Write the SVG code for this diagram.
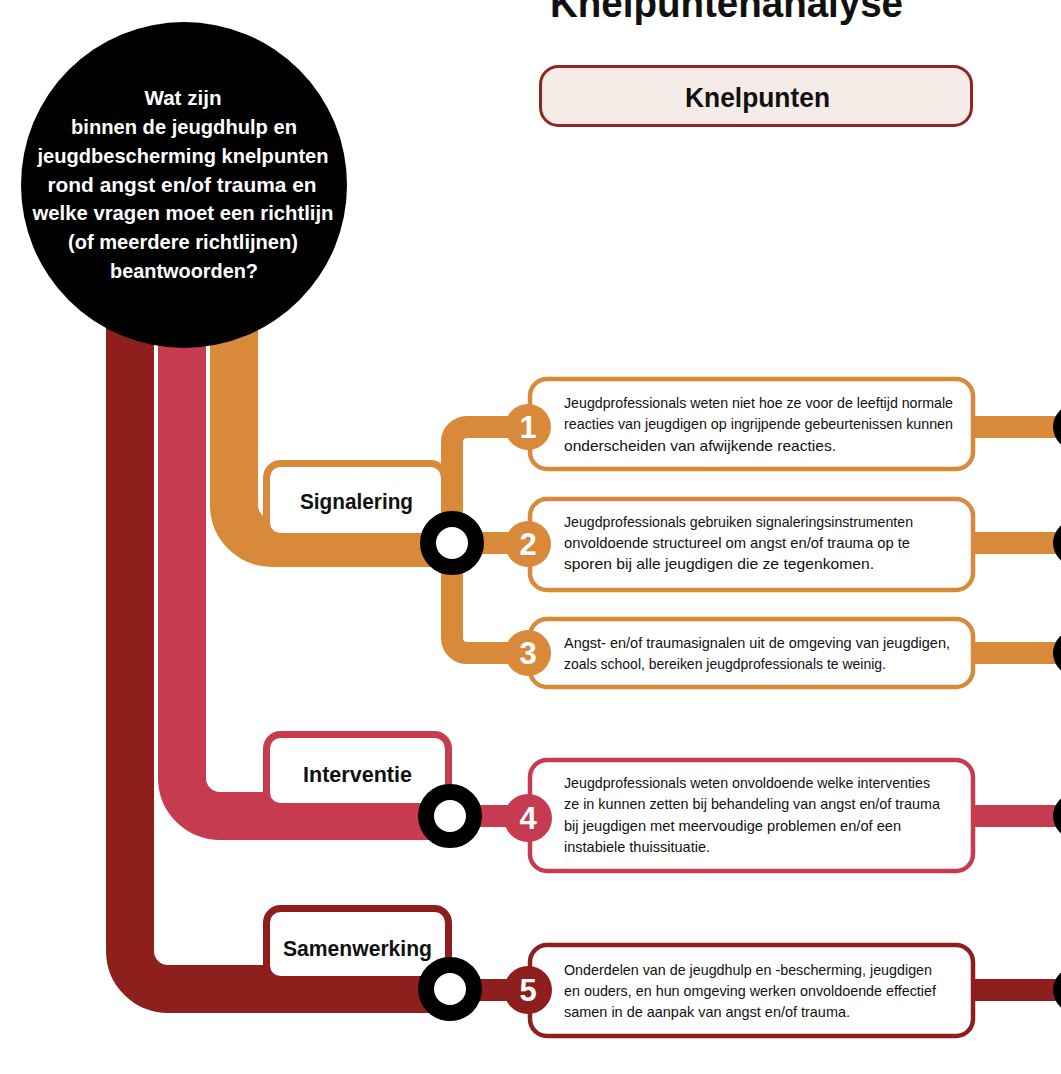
<svg xmlns="http://www.w3.org/2000/svg" width="1061" height="1074" viewBox="0 0 1061 1074">
<style>
.thick{fill:none;stroke-width:48}
.thin{fill:none;stroke-width:22}
.or{stroke:#D9893A}
.pk{stroke:#C63B50}
.dr{stroke:#8F1F1D}
.orf{fill:#D9893A}
.pkf{fill:#C63B50}
.drf{fill:#8F1F1D}
.lbox{fill:#fff;stroke-width:7}
.tbox{fill:#fff;stroke-width:4.5}
.ring{fill:#fff;stroke:#000;stroke-width:16}
.lbl{font-family:"Liberation Sans",Arial,sans-serif;font-weight:bold;font-size:22px;fill:#111}
.q{font-family:"Liberation Sans",Arial,sans-serif;font-weight:bold;font-size:20px;fill:#fff;text-anchor:middle}
.t{font-family:"Liberation Sans",Arial,sans-serif;font-size:15px;fill:#111}
.num{font-family:"Liberation Sans",Arial,sans-serif;font-weight:bold;font-size:31px;fill:#fff;text-anchor:middle}
</style>
<rect width="1061" height="1074" fill="#fff"/>
<text x="550" y="17" font-family="Liberation Sans, Arial, sans-serif" font-weight="bold" font-size="40" fill="#111" textLength="353" lengthAdjust="spacingAndGlyphs">Knelpuntenanalyse</text>
<g id="connectors">
<path class="thick dr" d="M130,300 V951 A38,38 0 0 0 168,989 H452"/>
<path class="thick pk" d="M182,300 V778 A38,38 0 0 0 220,816 H452"/>
<path class="thick or" d="M234,300 V505 A38,38 0 0 0 272,543 H452"/>
<path class="thin or" d="M452,543 V442 A15,15 0 0 1 467,427 H1061"/>
<path class="thin or" d="M452,543 H1061"/>
<path class="thin or" d="M452,543 V638 A15,15 0 0 0 467,653 H1061"/>
<path class="thin pk" d="M450,816 H1061"/>
<path class="thin dr" d="M450,990 H1061"/>
</g>
<g id="question">
<circle cx="184" cy="185" r="163" fill="#000"/>
<text class="q" x="183" y="105" textLength="77" lengthAdjust="spacingAndGlyphs">Wat zijn</text>
<text class="q" x="184" y="134" textLength="226" lengthAdjust="spacingAndGlyphs">binnen de jeugdhulp en</text>
<text class="q" x="183" y="163" textLength="291" lengthAdjust="spacingAndGlyphs">jeugdbescherming knelpunten</text>
<text class="q" x="182" y="192" textLength="269" lengthAdjust="spacingAndGlyphs">rond angst en/of trauma en</text>
<text class="q" x="183" y="220" textLength="301" lengthAdjust="spacingAndGlyphs">welke vragen moet een richtlijn</text>
<text class="q" x="183" y="249" textLength="230" lengthAdjust="spacingAndGlyphs">(of meerdere richtlijnen)</text>
<text class="q" x="184" y="278" textLength="148" lengthAdjust="spacingAndGlyphs">beantwoorden?</text>
</g>
<g id="knelpunten">
<rect x="540.5" y="66.5" width="431" height="59" rx="18" fill="#F5EBE7" stroke="#8E2623" stroke-width="3"/>
<text x="685" y="107" font-family="Liberation Sans, Arial, sans-serif" font-weight="bold" font-size="27" fill="#111" textLength="145" lengthAdjust="spacingAndGlyphs">Knelpunten</text>
</g>
<g id="signalering">
<rect class="lbox or" x="266.5" y="463.5" width="178" height="73" rx="14"/>
<text class="lbl" x="300" y="509" textLength="113" lengthAdjust="spacingAndGlyphs">Signalering</text>
<circle class="ring" cx="452" cy="543" r="24"/>
</g>
<g id="interventie">
<rect class="lbox pk" x="266.5" y="734.5" width="182" height="72" rx="14"/>
<text class="lbl" x="303" y="782" textLength="109" lengthAdjust="spacingAndGlyphs">Interventie</text>
<circle class="ring" cx="450" cy="816" r="24"/>
</g>
<g id="samenwerking">
<rect class="lbox dr" x="266.5" y="908.5" width="182" height="71" rx="14"/>
<text class="lbl" x="283" y="956" textLength="149" lengthAdjust="spacingAndGlyphs">Samenwerking</text>
<circle class="ring" cx="450" cy="989" r="24"/>
</g>
<g id="k1">
<rect class="tbox or" x="530" y="379" width="443" height="90" rx="17"/>
<circle class="orf" cx="528" cy="427" r="23"/>
<text class="num" x="528" y="438">1</text>
<text class="t" x="564" y="408" textLength="389" lengthAdjust="spacingAndGlyphs">Jeugdprofessionals weten niet hoe ze voor de leeftijd normale</text>
<text class="t" x="564" y="429" textLength="389" lengthAdjust="spacingAndGlyphs">reacties van jeugdigen op ingrijpende gebeurtenissen kunnen</text>
<text class="t" x="564" y="450.5" textLength="272" lengthAdjust="spacingAndGlyphs">onderscheiden van afwijkende reacties.</text>
<circle cx="1076" cy="427" r="23" fill="#000"/>
</g>
<g id="k2">
<rect class="tbox or" x="530" y="499" width="443" height="91" rx="17"/>
<circle class="orf" cx="528" cy="544" r="23"/>
<text class="num" x="528" y="555">2</text>
<text class="t" x="564" y="527" textLength="349" lengthAdjust="spacingAndGlyphs">Jeugdprofessionals gebruiken signaleringsinstrumenten</text>
<text class="t" x="564" y="548" textLength="346" lengthAdjust="spacingAndGlyphs">onvoldoende structureel om angst en/of trauma op te</text>
<text class="t" x="564" y="569" textLength="310" lengthAdjust="spacingAndGlyphs">sporen bij alle jeugdigen die ze tegenkomen.</text>
<circle cx="1076" cy="543" r="23" fill="#000"/>
</g>
<g id="k3">
<rect class="tbox or" x="530" y="619" width="443" height="68" rx="17"/>
<circle class="orf" cx="528" cy="653" r="23"/>
<text class="num" x="528" y="664">3</text>
<text class="t" x="564" y="648" textLength="386" lengthAdjust="spacingAndGlyphs">Angst- en/of traumasignalen uit de omgeving van jeugdigen,</text>
<text class="t" x="564" y="669" textLength="322" lengthAdjust="spacingAndGlyphs">zoals school, bereiken jeugdprofessionals te weinig.</text>
<circle cx="1076" cy="653" r="23" fill="#000"/>
</g>
<g id="k4">
<rect class="tbox pk" x="530" y="760" width="443" height="111" rx="17"/>
<circle class="pkf" cx="528" cy="818" r="24"/>
<text class="num" x="528" y="829">4</text>
<text class="t" x="564" y="788" textLength="366" lengthAdjust="spacingAndGlyphs">Jeugdprofessionals weten onvoldoende welke interventies</text>
<text class="t" x="564" y="809" textLength="376" lengthAdjust="spacingAndGlyphs">ze in kunnen zetten bij behandeling van angst en/of trauma</text>
<text class="t" x="564" y="831" textLength="337" lengthAdjust="spacingAndGlyphs">bij jeugdigen met meervoudige problemen en/of een</text>
<text class="t" x="564" y="852" textLength="146" lengthAdjust="spacingAndGlyphs">instabiele thuissituatie.</text>
<circle cx="1076" cy="816" r="23" fill="#000"/>
</g>
<g id="k5">
<rect class="tbox dr" x="530" y="945" width="443" height="91" rx="17"/>
<circle class="drf" cx="528" cy="990" r="24"/>
<text class="num" x="528" y="1001">5</text>
<text class="t" x="564" y="975" textLength="368" lengthAdjust="spacingAndGlyphs">Onderdelen van de jeugdhulp en -bescherming, jeugdigen</text>
<text class="t" x="564" y="996" textLength="372" lengthAdjust="spacingAndGlyphs">en ouders, en hun omgeving werken onvoldoende effectief</text>
<text class="t" x="564" y="1017" textLength="286" lengthAdjust="spacingAndGlyphs">samen in de aanpak van angst en/of trauma.</text>
<circle cx="1076" cy="990" r="23" fill="#000"/>
</g>
</svg>
